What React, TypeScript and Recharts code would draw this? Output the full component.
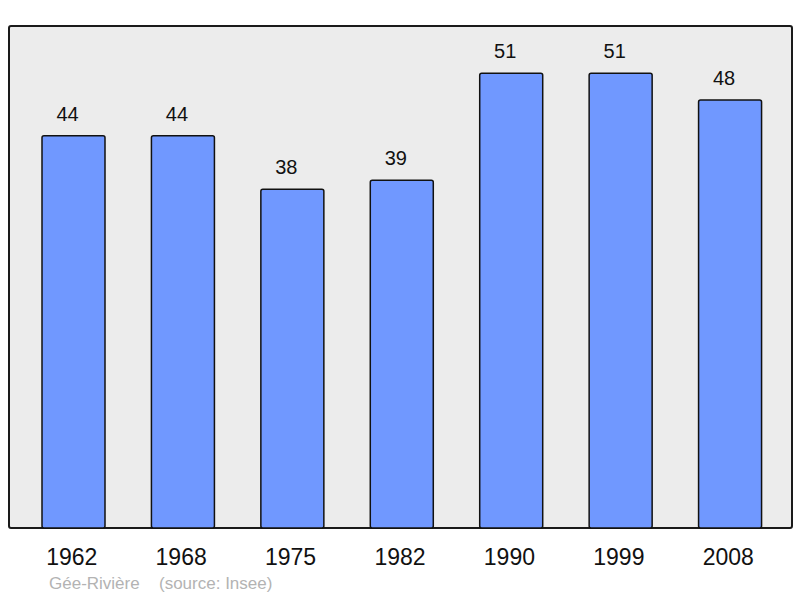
import { BarChart, Bar, XAxis, YAxis, LabelList } from 'recharts'

const years = ['1962', '1968', '1975', '1982', '1990', '1999', '2008']
const population = [44, 44, 38, 39, 51, 51, 48]
const commune = 'Gée-Rivière'
const source = '(source: Insee)'

const data = years.map((year, i) => ({ year, population: population[i] }))

const font = '"Liberation Sans", Arial, sans-serif'

export default function App() {
  return (
    <div style={{ position: 'absolute', left: 0, top: 0, width: 800, height: 598, fontFamily: font }}>
      <div
        style={{
          position: 'absolute',
          left: 8,
          top: 25,
          width: 785,
          height: 504,
          boxSizing: 'border-box',
          border: '2px solid #1a1a1a',
          borderRadius: 3,
          background: '#ececec',
        }}
      />
      <BarChart
        width={800}
        height={598}
        data={data}
        margin={{ top: 26, right: 8, bottom: 30, left: 9 }}
        style={{ position: 'absolute', left: 0, top: 0 }}
      >
        <XAxis
          dataKey='year'
          height={40}
          axisLine={false}
          tickLine={false}
          tickMargin={15}
          padding={{ left: 10, right: 7 }}
          tick={{ fontSize: 23, fill: '#111', fontFamily: font, dx: -2 }}
        />
        <YAxis hide domain={[0, 56.3]} />
        <Bar
          dataKey='population'
          fill='#7098ff'
          stroke='#111'
          strokeWidth={1.5}
          barSize={63}
          radius={2}
          isAnimationActive={false}
        >
          <LabelList
            dataKey='population'
            position='top'
            offset={15}
            dx={-6}
            style={{ fontSize: 20, fill: '#111', fontFamily: font }}
          />
        </Bar>
      </BarChart>
      <div style={{ position: 'absolute', left: 49, top: 574, fontSize: 17, color: '#b3b3b3', whiteSpace: 'pre' }}>
        {commune}
      </div>
      <div style={{ position: 'absolute', left: 159, top: 574, fontSize: 17, color: '#b3b3b3', whiteSpace: 'pre' }}>
        {source}
      </div>
    </div>
  )
}
